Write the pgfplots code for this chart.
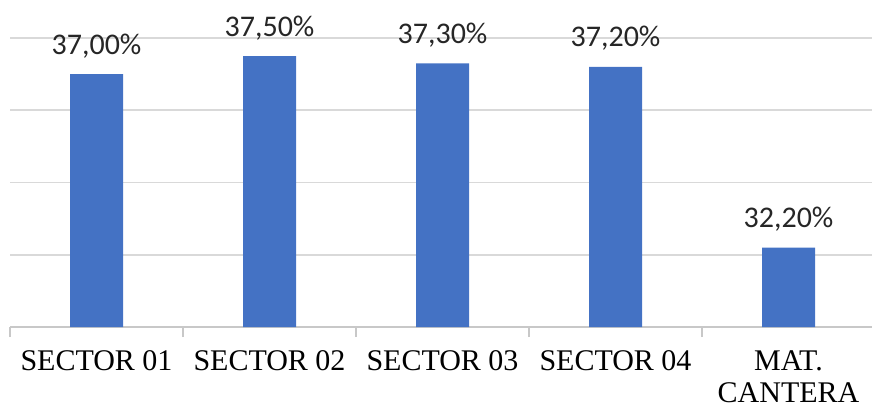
\documentclass[border=0pt]{standalone}
\usepackage{pgfplots}
\pgfplotsset{compat=1.18}
\usepackage{fontspec}
\setmainfont{Liberation Serif}
\newfontfamily\carlito{Carlito}
\definecolor{barblue}{RGB}{68,114,196}
\definecolor{gridgray}{RGB}{217,217,217}
\definecolor{axgray}{RGB}{200,200,200}
\begin{document}
\begin{tikzpicture}
\path[use as bounding box] (-5pt,-40.5pt) rectangle (431pt,163.5pt);
\begin{axis}[
  at={(0,0)}, anchor=south west,
  scale only axis,
  width=432.5pt, height=144.5pt,
  xmin=-0.5, xmax=4.5,
  ymin=30, ymax=38,
  ytick={30,32,34,36,38},
  yticklabels={},
  ymajorgrids,
  grid style={gridgray, line width=0.8pt},
  axis x line*=bottom,
  axis y line*=left,
  y axis line style={draw=none},
  ytick style={draw=none},
  x axis line style={axgray, line width=0.8pt},
  xtick={0,1,2,3,4},
  xticklabels={SECTOR 01,SECTOR 02,SECTOR 03,SECTOR 04,{MAT.\\CANTERA}},
  major x tick style={draw=none},
  minor xtick={-0.5,0.5,1.5,2.5,3.5,4.5},
  minor x tick style={axgray, line width=0.8pt},
  minor tick length=5pt,
  major tick length=0pt,
  tick align=outside,
  xticklabel style={font=\fontsize{15}{16}\selectfont, align=center, anchor=north, inner sep=0pt, yshift=-11.5pt},
  clip=false,
]
\addplot[ybar, bar width=26.5pt, fill=barblue, draw=none,
  point meta=explicit symbolic,
  nodes near coords,
  nodes near coords style={font=\carlito\fontsize{15}{18}\selectfont, anchor=base, inner sep=0pt, yshift=10pt, text=black!85},
] coordinates {
  (0,37.00) [37,00\%]
  (1,37.50) [37,50\%]
  (2,37.30) [37,30\%]
  (3,37.20) [37,20\%]
  (4,32.20) [32,20\%]
};
\end{axis}
\end{tikzpicture}
\end{document}
